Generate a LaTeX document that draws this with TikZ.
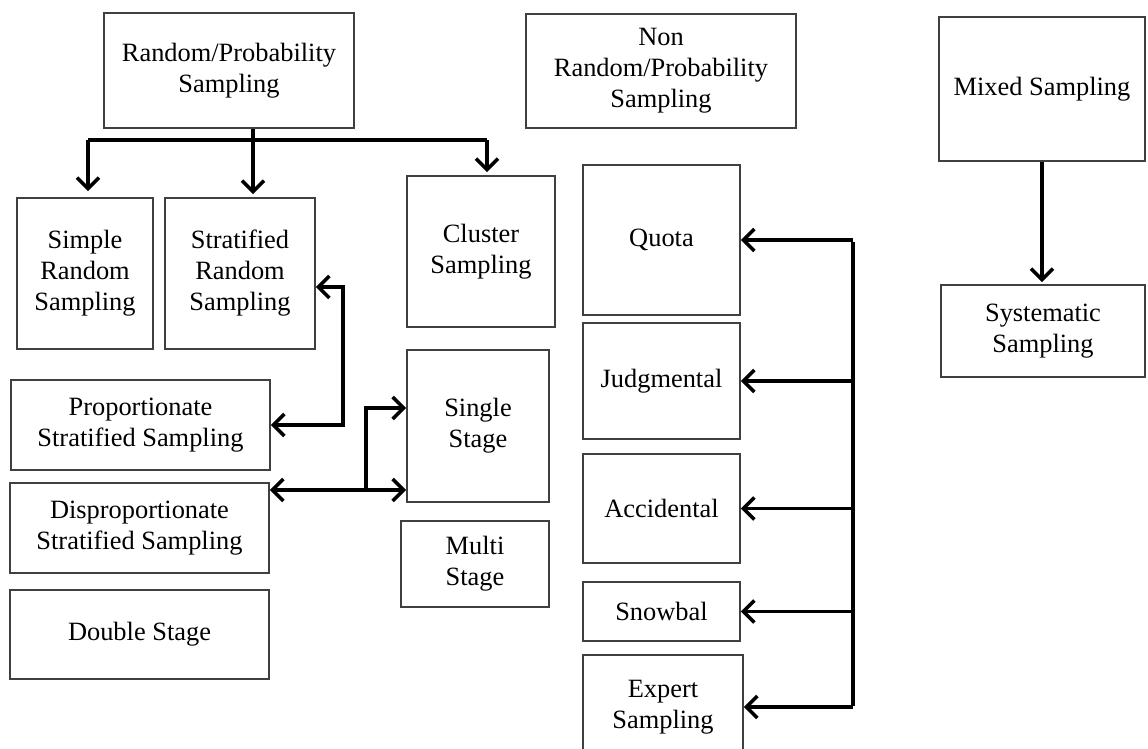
\documentclass[tikz,border=0pt]{standalone}
\usepackage{fontspec}
\setmainfont{Liberation Serif}
\usetikzlibrary{arrows.meta}

\begin{document}
\begin{tikzpicture}[x=0.5pt,y=-0.5pt,
    box/.style={draw=black!75, line width=0.8pt, align=center, inner sep=0pt,
      font=\fontsize{13.2}{15.5}\selectfont},
    arr/.style={line width=1.8pt, -{Straight Barb[length=5.5pt,width=11pt,line width=1.8pt]}},
    arrs/.style={arr, {Straight Barb[length=5.5pt,width=11pt,line width=1.8pt]}-{Straight Barb[length=5.5pt,width=11pt,line width=1.8pt]}}]
  \useasboundingbox (0,0) rectangle (1148,749);
  % top row
  \node[box, minimum width=125pt, minimum height=57.5pt] (rnd) at (229,70.5) {Random/Probability\\Sampling};
  \node[box, minimum width=135pt, minimum height=57pt] (nonrnd) at (661,71) {Non\\Random/Probability\\Sampling};
  \node[box, minimum width=103pt, minimum height=72pt] (mix) at (1042,89) {Mixed Sampling};
  \node[box, minimum width=102pt, minimum height=46pt] (sys) at (1043,331) {Systematic\\Sampling};
  % random side
  \node[box, minimum width=68pt, minimum height=75.5pt] (srs) at (85,273.5) {Simple\\Random\\Sampling};
  \node[box, minimum width=75pt, minimum height=75.5pt] (str) at (240,273.5) {Stratified\\Random\\Sampling};
  \node[box, minimum width=74pt, minimum height=75.5pt] (clu) at (481,251.5) {Cluster\\Sampling};
  \node[box, minimum width=71pt, minimum height=76pt] (sing) at (478,426) {Single\\Stage};
  \node[box, minimum width=74pt, minimum height=43pt] (mult) at (475,564) {Multi\\Stage};
  \node[box, minimum width=129.5pt, minimum height=45pt] (prop) at (140.5,425) {Proportionate\\Stratified Sampling};
  \node[box, minimum width=129.5pt, minimum height=45pt] (disp) at (139.5,528) {Disproportionate\\Stratified Sampling};
  \node[box, minimum width=129.5pt, minimum height=44.5pt] (dbl) at (139.5,634.5) {Double Stage};
  % non random side
  \node[box, minimum width=78.5pt, minimum height=75pt] (quo) at (661.5,240) {Quota};
  \node[box, minimum width=78.5pt, minimum height=58pt] (jud) at (661.5,381) {Judgmental};
  \node[box, minimum width=78.5pt, minimum height=54.5pt] (acc) at (661.5,508.5) {Accidental};
  \node[box, minimum width=78.5pt, minimum height=29.5pt] (snow) at (661.5,611.5) {Snowbal};
  \node[box, minimum width=80pt, minimum height=52pt] (exp) at (663,707) {Expert\\Sampling};

  \coordinate (b1) at (88,140);
  \coordinate (b2) at (253,140);
  \coordinate (b3) at (487,140);
  \draw[line width=1.8pt] (b1) -- (b3);
  \draw[line width=1.8pt] (rnd.south -| b2) -- (b2);
  \draw[arr, shorten >=3pt] (b1) -- (b1 |- srs.north);
  \draw[arr, shorten >=1.5pt] (b2) -- (b2 |- str.north);
  \draw[arr, shorten >=1.5pt] (b3) -- (b3 |- clu.north);

  \draw[arrs] (str.east |- 0,287) -- (343,287) -- (343,425) -- (prop.east);
  \coordinate (d1) at (366,490);
  \draw[arrs] (disp.east |- d1) -- (sing.west |- d1);
  \draw[arr] (d1) -- (366,408) -- (sing.west |- 0,408);

  \coordinate (nt) at (853,242);
  \coordinate (nb) at (853,706);
  \draw[line width=1.8pt] (nt) -- (nb);
  \foreach \n in {quo,jud,acc,snow,exp}
    \draw[arr] (\n.east -| nt) -- (\n.east);

  \draw[arr, shorten >=1pt] (mix.south) -- (mix.south |- sys.north);
\end{tikzpicture}
\end{document}
